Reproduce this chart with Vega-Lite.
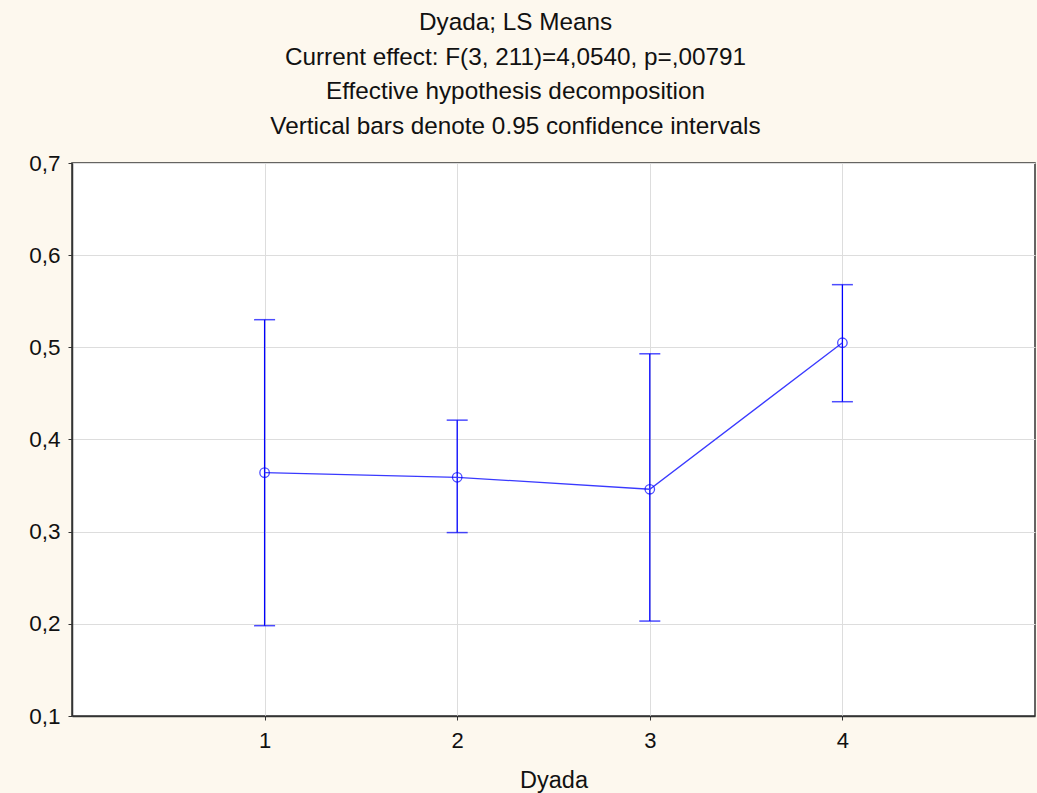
{
  "$schema": "https://vega.github.io/schema/vega-lite/v6.json",
  "width": 963,
  "height": 553,
  "autosize": {"type": "none"},
  "padding": {"left": 72, "top": 163, "right": 2, "bottom": 77},
  "background": "#fdf8ee",
  "view": {"fill": "white", "stroke": "#333333", "strokeWidth": 1.5},
  "title": {
    "text": ["Dyada; LS Means", "Current effect: F(3, 211)=4,0540, p=,00791", "Effective hypothesis decomposition", "Vertical bars denote 0.95 confidence intervals"],
    "font": "Liberation Sans",
    "fontSize": 24.3,
    "fontWeight": "normal",
    "color": "#111111",
    "lineHeight": 34.5,
    "anchor": "middle",
    "dx": -38,
    "offset": 13
  },
  "data": {
    "values": [
      {"dyada": 1, "mean": 0.364, "lo": 0.198, "hi": 0.530},
      {"dyada": 2, "mean": 0.359, "lo": 0.299, "hi": 0.421},
      {"dyada": 3, "mean": 0.346, "lo": 0.203, "hi": 0.493},
      {"dyada": 4, "mean": 0.505, "lo": 0.441, "hi": 0.568}
    ]
  },
  "encoding": {
    "x": {
      "field": "dyada",
      "type": "quantitative",
      "scale": {"domain": [0, 5], "nice": false, "zero": false},
      "axis": {
        "title": "Dyada",
        "values": [1, 2, 3, 4],
        "format": "d",
        "labelFont": "Liberation Sans",
        "labelFontSize": 22,
        "labelColor": "#111111",
        "labelPadding": 10,
        "titleFont": "Liberation Sans",
        "titleFontSize": 23.5,
        "titleFontWeight": "normal",
        "titleColor": "#111111",
        "titlePadding": 17,
        "domainColor": "#333333",
        "domainWidth": 1.5,
        "tickColor": "#333333",
        "tickSize": 4,
        "grid": true,
        "gridColor": "#dddddd"
      }
    }
  },
  "layer": [
    {
      "mark": {"type": "rule", "color": "#0000ff", "strokeWidth": 1.3},
      "encoding": {
        "y": {
          "field": "lo",
          "type": "quantitative",
          "scale": {"domain": [0.1, 0.7], "nice": false, "zero": false},
          "axis": {
            "title": null,
            "values": [0.1, 0.2, 0.3, 0.4, 0.5, 0.6, 0.7],
            "labelExpr": "replace(format(datum.value, '.1f'), '.', ',')",
            "labelFont": "Liberation Sans",
            "labelFontSize": 22.5,
            "labelColor": "#111111",
            "labelPadding": 8,
            "domainColor": "#333333",
            "domainWidth": 1.5,
            "tickColor": "#333333",
            "tickSize": 4,
            "grid": true,
            "gridColor": "#dddddd"
          }
        },
        "y2": {"field": "hi"}
      }
    },
    {
      "mark": {"type": "tick", "orient": "horizontal", "color": "#0000ff", "size": 21, "thickness": 1.5},
      "encoding": {"y": {"field": "lo", "type": "quantitative"}}
    },
    {
      "mark": {"type": "tick", "orient": "horizontal", "color": "#0000ff", "size": 21, "thickness": 1.5},
      "encoding": {"y": {"field": "hi", "type": "quantitative"}}
    },
    {
      "mark": {"type": "line", "color": "#3a3aff", "strokeWidth": 1.3},
      "encoding": {"y": {"field": "mean", "type": "quantitative"}}
    },
    {
      "mark": {"type": "point", "shape": "circle", "filled": false, "color": "#0000ff", "size": 90, "strokeWidth": 1.3},
      "encoding": {"y": {"field": "mean", "type": "quantitative"}}
    }
  ]
}
